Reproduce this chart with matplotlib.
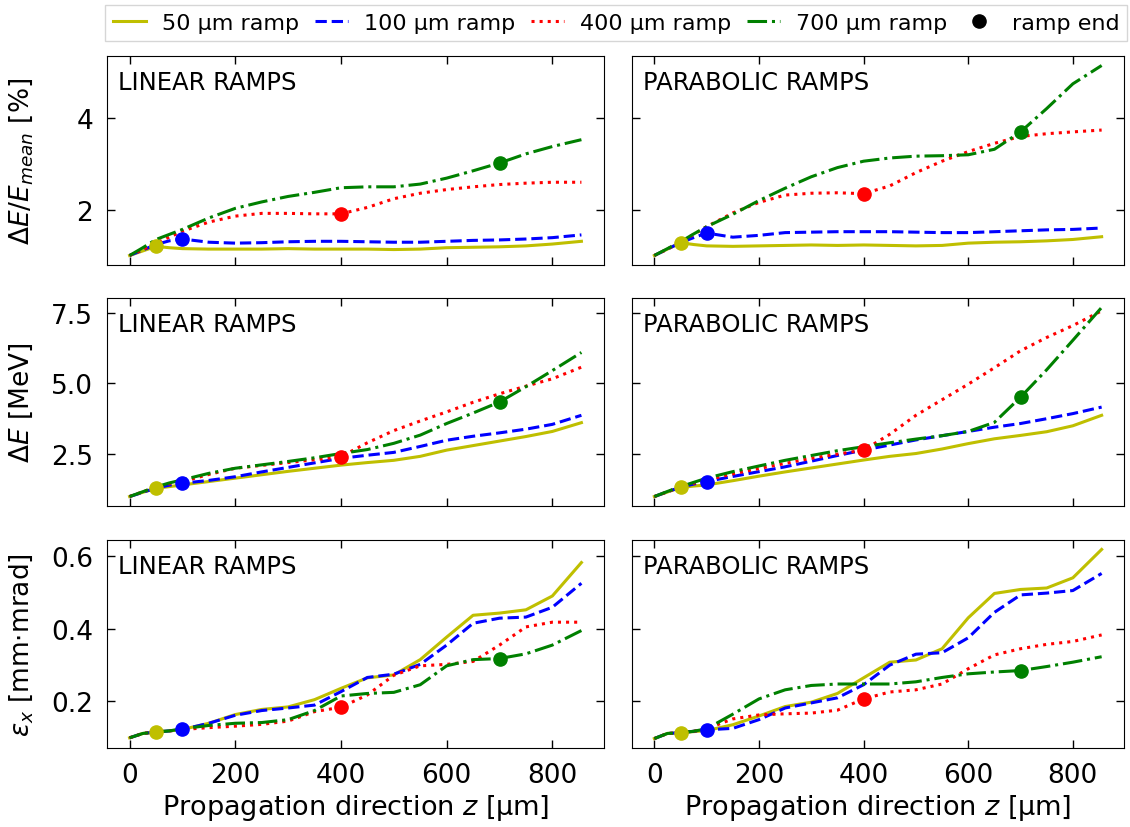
import matplotlib
matplotlib.use("Agg")
import matplotlib.pyplot as plt
from matplotlib.lines import Line2D

# Propagation positions [um]
z = [0, 25, 50, 75, 100, 150, 200, 250, 300, 350, 400, 450, 500, 550, 600, 650, 700, 750, 800, 855]

ramp_labels = ["50 µm ramp", "100 µm ramp", "400 µm ramp", "700 µm ramp"]
ramp_ends = [50, 100, 400, 700]
colors = ["#bfbf00", "blue", "red", "green"]
styles = ["-", "--", ":", "-."]

# Relative energy spread dE/E_mean [%]
spread_lin_50 = [1.0, 1.1, 1.2, 1.17, 1.15, 1.14, 1.14, 1.14, 1.15, 1.14, 1.14, 1.14, 1.13, 1.14, 1.17, 1.18, 1.19, 1.21, 1.25, 1.31]
spread_lin_100 = [1.0, 1.12, 1.24, 1.32, 1.36, 1.29, 1.27, 1.28, 1.30, 1.31, 1.31, 1.30, 1.29, 1.29, 1.31, 1.33, 1.34, 1.36, 1.39, 1.45]
spread_lin_400 = [1.0, 1.13, 1.27, 1.40, 1.53, 1.73, 1.86, 1.92, 1.92, 1.91, 1.91, 2.05, 2.24, 2.36, 2.44, 2.50, 2.55, 2.58, 2.60, 2.60]
spread_lin_700 = [1.0, 1.17, 1.35, 1.46, 1.57, 1.82, 2.03, 2.17, 2.29, 2.38, 2.48, 2.50, 2.50, 2.56, 2.69, 2.85, 3.02, 3.22, 3.38, 3.53]

spread_par_50 = [1.0, 1.14, 1.28, 1.24, 1.21, 1.20, 1.21, 1.22, 1.23, 1.22, 1.23, 1.22, 1.21, 1.22, 1.27, 1.29, 1.30, 1.32, 1.35, 1.41]
spread_par_100 = [1.0, 1.14, 1.28, 1.39, 1.49, 1.40, 1.44, 1.50, 1.51, 1.52, 1.52, 1.52, 1.51, 1.50, 1.50, 1.52, 1.54, 1.56, 1.57, 1.60]
spread_par_400 = [1.0, 1.14, 1.30, 1.46, 1.63, 1.93, 2.16, 2.32, 2.36, 2.37, 2.35, 2.52, 2.81, 3.06, 3.27, 3.45, 3.60, 3.66, 3.70, 3.74]
spread_par_700 = [1.0, 1.15, 1.30, 1.47, 1.63, 1.90, 2.20, 2.47, 2.72, 2.92, 3.06, 3.13, 3.17, 3.18, 3.20, 3.32, 3.70, 4.21, 4.75, 5.15]

# Absolute energy spread dE [MeV]
de_lin_50 = [1.0, 1.15, 1.29, 1.35, 1.41, 1.53, 1.65, 1.77, 1.89, 2.00, 2.11, 2.20, 2.28, 2.42, 2.64, 2.80, 2.96, 3.12, 3.30, 3.61]
de_lin_100 = [1.0, 1.15, 1.30, 1.40, 1.47, 1.57, 1.70, 1.87, 2.03, 2.19, 2.35, 2.46, 2.56, 2.77, 2.99, 3.13, 3.25, 3.38, 3.55, 3.87]
de_lin_400 = [1.0, 1.17, 1.33, 1.45, 1.53, 1.78, 2.00, 2.10, 2.20, 2.30, 2.41, 2.90, 3.33, 3.67, 3.99, 4.33, 4.63, 4.90, 5.16, 5.57]
de_lin_700 = [1.0, 1.17, 1.34, 1.48, 1.59, 1.82, 2.00, 2.12, 2.24, 2.37, 2.52, 2.66, 2.88, 3.17, 3.58, 3.95, 4.34, 4.88, 5.45, 6.09]

de_par_50 = [1.0, 1.16, 1.32, 1.37, 1.41, 1.56, 1.72, 1.87, 2.01, 2.15, 2.29, 2.42, 2.52, 2.68, 2.87, 3.04, 3.16, 3.29, 3.50, 3.87]
de_par_100 = [1.0, 1.17, 1.33, 1.44, 1.53, 1.71, 1.88, 2.05, 2.25, 2.45, 2.64, 2.82, 3.00, 3.15, 3.30, 3.45, 3.58, 3.75, 3.93, 4.16]
de_par_400 = [1.0, 1.17, 1.34, 1.47, 1.59, 1.80, 1.99, 2.17, 2.35, 2.50, 2.64, 3.20, 3.87, 4.42, 4.97, 5.55, 6.15, 6.62, 7.04, 7.56]
de_par_700 = [1.0, 1.18, 1.35, 1.50, 1.65, 1.88, 2.08, 2.28, 2.45, 2.62, 2.76, 2.90, 3.03, 3.15, 3.30, 3.62, 4.51, 5.48, 6.52, 7.68]

# Transverse emittance eps_x [mm mrad]
em_lin_50 = [0.100, 0.112, 0.116, 0.119, 0.123, 0.140, 0.164, 0.178, 0.185, 0.205, 0.236, 0.265, 0.273, 0.315, 0.377, 0.437, 0.443, 0.452, 0.490, 0.582]
em_lin_100 = [0.100, 0.112, 0.116, 0.119, 0.123, 0.140, 0.162, 0.175, 0.182, 0.190, 0.227, 0.266, 0.275, 0.302, 0.355, 0.415, 0.429, 0.432, 0.459, 0.525]
em_lin_400 = [0.100, 0.112, 0.116, 0.119, 0.123, 0.128, 0.132, 0.137, 0.146, 0.172, 0.184, 0.218, 0.272, 0.298, 0.302, 0.310, 0.355, 0.405, 0.418, 0.418]
em_lin_700 = [0.100, 0.112, 0.116, 0.119, 0.125, 0.134, 0.140, 0.142, 0.150, 0.175, 0.215, 0.222, 0.225, 0.246, 0.298, 0.315, 0.318, 0.331, 0.355, 0.395]

em_par_50 = [0.098, 0.112, 0.114, 0.117, 0.120, 0.136, 0.160, 0.186, 0.198, 0.222, 0.265, 0.308, 0.314, 0.345, 0.430, 0.497, 0.508, 0.512, 0.540, 0.618]
em_par_100 = [0.098, 0.112, 0.114, 0.118, 0.122, 0.126, 0.150, 0.182, 0.196, 0.210, 0.246, 0.300, 0.330, 0.334, 0.375, 0.445, 0.493, 0.498, 0.505, 0.552]
em_par_400 = [0.098, 0.112, 0.114, 0.118, 0.125, 0.152, 0.163, 0.166, 0.168, 0.176, 0.207, 0.226, 0.232, 0.248, 0.290, 0.328, 0.345, 0.357, 0.365, 0.383]
em_par_700 = [0.098, 0.112, 0.114, 0.118, 0.125, 0.165, 0.207, 0.232, 0.244, 0.248, 0.248, 0.248, 0.254, 0.266, 0.276, 0.281, 0.285, 0.296, 0.308, 0.323]

panels = [
    [[spread_lin_50, spread_lin_100, spread_lin_400, spread_lin_700],
     [spread_par_50, spread_par_100, spread_par_400, spread_par_700]],
    [[de_lin_50, de_lin_100, de_lin_400, de_lin_700],
     [de_par_50, de_par_100, de_par_400, de_par_700]],
    [[em_lin_50, em_lin_100, em_lin_400, em_lin_700],
     [em_par_50, em_par_100, em_par_400, em_par_700]],
]
ylabels = [r"$\Delta E/E_{mean}$ [%]", r"$\Delta E$ [MeV]", r"$\varepsilon_x$ [mm$\cdot$mrad]"]
yticks = [[2, 4], [2.5, 5.0, 7.5], [0.2, 0.4, 0.6]]
ytickfmt = ["{:g}", "{:.1f}", "{:.1f}"]
titles = ["LINEAR RAMPS", "PARABOLIC RAMPS"]

W, H = 1130, 828
fig = plt.figure(figsize=(W / 100, H / 100), dpi=100)

cols = [(107, 604), (632, 1124)]
rows = [(57, 266), (299, 507), (541, 749)]

axes = [[None, None] for _ in rows]
for r, (top, bot) in enumerate(rows):
    for c, (left, right) in enumerate(cols):
        kw = {}
        if c == 1:
            kw["sharey"] = axes[r][0]
        if r > 0:
            kw["sharex"] = axes[0][0]
        ax = fig.add_axes([left / W, 1 - bot / H, (right - left) / W, (bot - top) / H], **kw)
        axes[r][c] = ax
        for series, col, ls, zend in zip(panels[r][c], colors, styles, ramp_ends):
            ax.plot(z, series, color=col, ls=ls, lw=2.2)
            i = z.index(zend)
            ax.plot(z[i], series[i], "o", color=col, ms=9.5, zorder=5)
        ax.text(0.022, 0.935, titles[c], transform=ax.transAxes, fontsize=17.5, va="top", ha="left")
        ax.set_xticks([0, 200, 400, 600, 800])
        ax.set_yticks(yticks[r])
        ax.tick_params(direction="in", top=True, right=True, length=6, width=1, labelsize=19, pad=10)
        if c == 0:
            ax.set_yticklabels([ytickfmt[r].format(v) for v in yticks[r]])
            ax.set_ylabel(ylabels[r], fontsize=19)
            ax.yaxis.set_label_coords(-0.145, 0.5)
        else:
            ax.tick_params(labelleft=False)
        if r < 2:
            ax.tick_params(labelbottom=False)
        else:
            ax.set_xlabel(r"Propagation direction $z$ [µm]", fontsize=19.5, labelpad=3)

handles = [Line2D([], [], color=col, ls=ls, lw=2.2) for col, ls in zip(colors, styles)]
handles.append(Line2D([], [], color="black", marker="o", ls="none", ms=9.5))
labels = ramp_labels + ["ramp end"]
fig.legend(handles, labels, loc="lower left", ncol=5, mode="expand",
           bbox_to_anchor=(105 / W, 1 - 42 / H, (1127 - 105) / W, 40 / H),
           fontsize=16, frameon=True, fancybox=False, edgecolor="#cccccc",
           handlelength=1.5, handletextpad=0.7, borderpad=0.35, borderaxespad=0)

fig.savefig("out.png", dpi=100)
